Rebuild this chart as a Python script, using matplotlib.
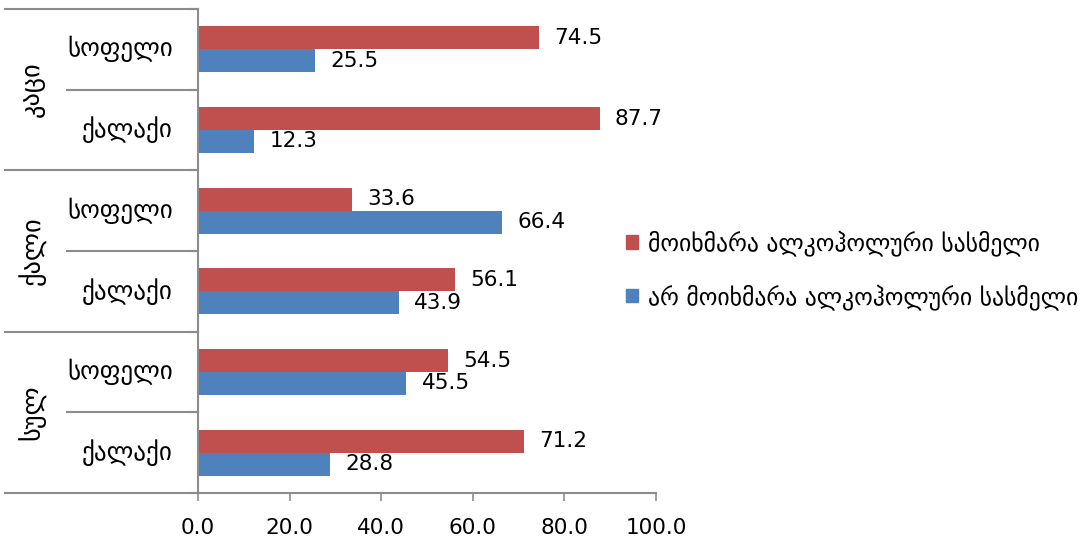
import numpy as np
import matplotlib.pyplot as plt
import matplotlib.transforms as mtransforms
from matplotlib.patches import Patch

plt.rcParams['font.family'] = ['DejaVu Sans']

# categories from bottom to top
groups = ['სულ', 'ქალი', 'კაცი']
subcats = ['ქალაქი', 'სოფელი']
drinks = [71.2, 54.5, 56.1, 33.6, 87.7, 74.5]      # მოიხმარა
no_drinks = [28.8, 45.5, 43.9, 66.4, 12.3, 25.5]   # არ მოიხმარა
series_names = ['მოიხმარა ალკოჰოლური სასმელი', 'არ მოიხმარა ალკოჰოლური სასმელი']
xticks = [0, 20, 40, 60, 80, 100]

red = '#C0504D'
blue = '#4F81BD'
gray = '#8C8C8C'
ka_size = 18   # georgian text
num_size = 15.5

fig = plt.figure(figsize=(10.88, 5.44), dpi=100)
ax = fig.add_axes([198 / 1088, 1 - 493 / 544, 458 / 1088, 484 / 544])

n = len(drinks)
y = np.arange(n)
h = 0.285
ax.barh(y + h / 2, drinks, height=h, color=red, label=series_names[0])
ax.barh(y - h / 2, no_drinks, height=h, color=blue, label=series_names[1])

for yi, v in zip(y, drinks):
    ax.annotate(f'{v:.1f}', (v, yi + h / 2), xytext=(11, 0), textcoords='offset points',
                va='center', ha='left', fontsize=num_size)
for yi, v in zip(y, no_drinks):
    ax.annotate(f'{v:.1f}', (v, yi - h / 2), xytext=(11, 0), textcoords='offset points',
                va='center', ha='left', fontsize=num_size)

ax.set_xlim(0, 100)
ax.set_ylim(-0.5, n - 0.5)
ax.set_xticks(xticks)
ax.set_xticklabels([f'{t:.1f}' for t in xticks], fontsize=num_size)
ax.tick_params(axis='x', length=6, color=gray, width=1.2, pad=12)
ax.set_yticks([])

for s in ['top', 'right']:
    ax.spines[s].set_visible(False)
for s in ['left', 'bottom']:
    ax.spines[s].set_color(gray)
    ax.spines[s].set_linewidth(1.5)

# category separators and labels
trans = mtransforms.blended_transform_factory(ax.transAxes, ax.transData)
x_long = (5 - 198) / 458
x_short = (67 - 198) / 458
for b in np.arange(-0.5, n, 2):
    ax.plot([x_long, 0], [b, b], color=gray, lw=1.5, transform=trans, clip_on=False)
for b in np.arange(0.5, n, 2):
    ax.plot([x_short, 0], [b, b], color=gray, lw=1.5, transform=trans, clip_on=False)
for b in np.arange(-0.5, n, 1):
    ax.plot([-0.018, 0], [b, b], color=gray, lw=1.5, transform=trans, clip_on=False)

for i in range(n):
    ax.text(-0.055, i, subcats[i % 2], transform=trans, ha='right', va='center', fontsize=ka_size)
for g, name in enumerate(groups):
    ax.text(-0.362, 2 * g + 0.5, name, transform=trans, ha='center', va='center',
            rotation=90, fontsize=19)

handles = [Patch(color=red), Patch(color=blue)]
fig.legend(handles, series_names, loc='center left', bbox_to_anchor=(607 / 1088, 1 - 270 / 544),
           frameon=False, fontsize=17.1, handlelength=0.52, handleheight=0.52,
           handletextpad=0.42, labelspacing=1.15, borderpad=0.3)

fig.savefig('out.png', dpi=100)
